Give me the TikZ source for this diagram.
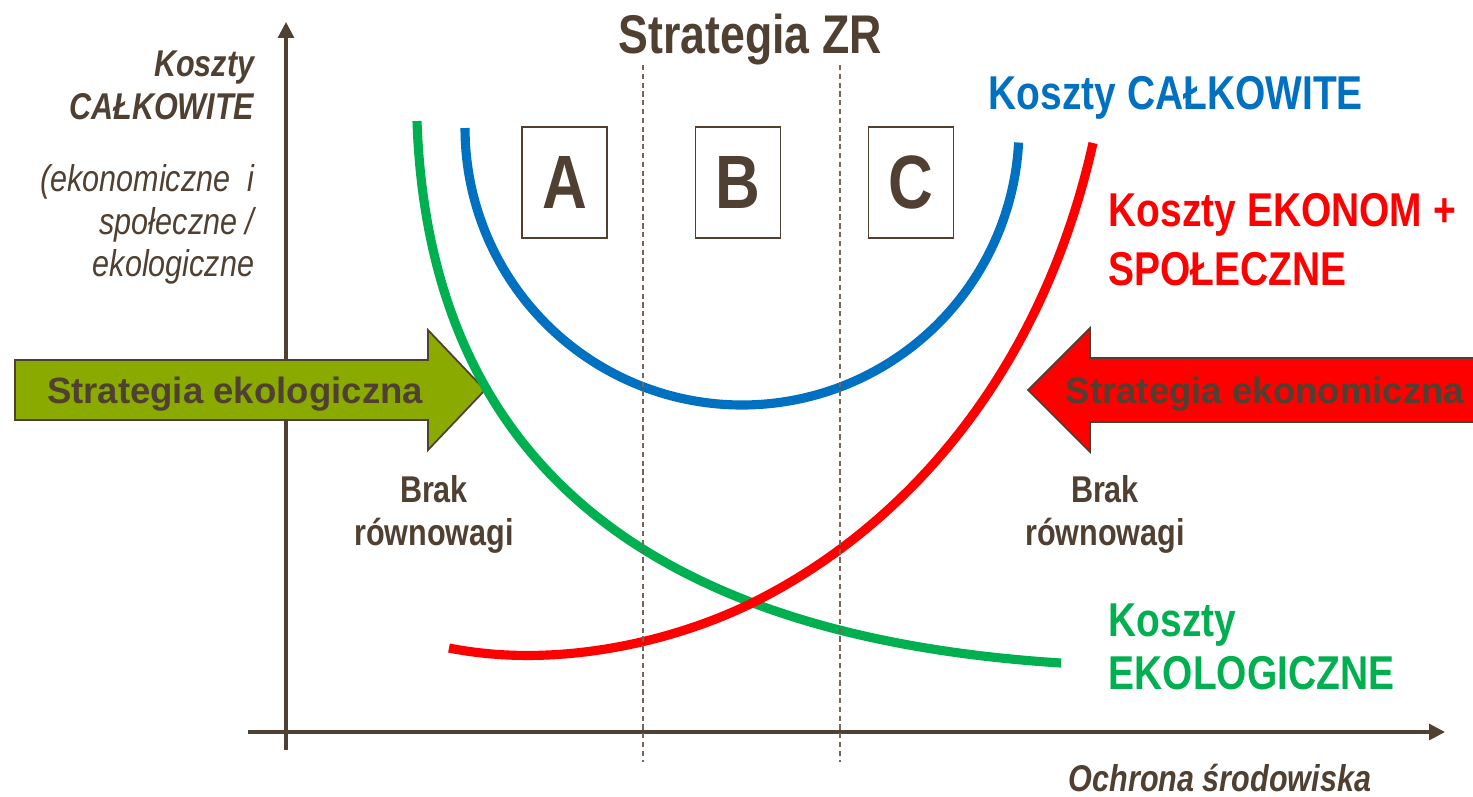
\documentclass[tikz,border=0pt]{standalone}
\usepackage{fontspec}
\setmainfont{Liberation Sans}
\newfontfamily\narrowsf[FakeStretch=0.82]{Liberation Sans}
\usetikzlibrary{arrows.meta}

\definecolor{zrbrown}{RGB}{80,64,50}
\definecolor{zrgreen}{RGB}{0,176,80}
\definecolor{zrblue}{RGB}{0,112,192}
\definecolor{zrred}{RGB}{255,0,0}
\definecolor{zrolive}{RGB}{138,170,0}

\tikzset{
  axis/.style={draw=zrbrown, line width=0.9pt, -{Triangle[length=4.5pt,width=4.5pt]}},
  zone/.style={draw=zrbrown!80, line width=0.35pt, dash pattern=on 1.5pt off 1pt},
  cost/.style={line width=2.6pt},
  letterbox/.style={draw=zrbrown, line width=0.5pt, minimum width=0.85cm, minimum height=1.11cm,
    inner sep=0pt, text=zrbrown, font={\narrowsf\bfseries\fontsize{21.5}{24}\selectfont}},
  strat/.style={draw=zrbrown, line width=0.5pt},
  strattext/.style={text=zrbrown, inner sep=0pt, font={\bfseries\fontsize{10.4}{12}\selectfont}},
  costlabel/.style={inner sep=0pt, align=left, font={\narrowsf\bfseries\fontsize{13.5}{16.8}\selectfont}},
  note/.style={text=zrbrown, inner sep=0pt, font={\narrowsf\bfseries\fontsize{10.6}{12.1}\selectfont}},
}

\begin{document}
\begin{tikzpicture}[x=0.01cm, y=-0.01cm]
    \useasboundingbox[fill=white] (0,0) rectangle (1473,796);

    % axes
    \coordinate (ybot) at (286,750);
    \coordinate (ytop) at (286,22);
    \coordinate (xleft) at (248,732);
    \coordinate (xright) at (1445,732);
    \draw[axis] (ybot) -- (ytop);
    \draw[axis] (xleft) -- (xright);

    % strategy arrows
    \filldraw[strat, fill=zrolive] (15,360) -- (428,360) -- (428,330) -- (485,390) -- (428,450) -- (428,420) -- (15,420) -- cycle;
    \fill[zrred] (1480,358) -- (1090,358) -- (1090,328) -- (1028,390) -- (1090,452) -- (1090,422) -- (1480,422);
    \draw[strat] (1480,358) -- (1090,358) -- (1090,328) -- (1028,390) -- (1090,452) -- (1090,422) -- (1480,422);
    \node[strattext, anchor=base] (ekol) at (235,403) {Strategia ekologiczna};
    \node[strattext, anchor=base west] (ekon) at (1065,403) {Strategia ekonomiczna};

    % cost curves
    \draw[cost, zrblue] plot[domain=180:3, samples=80, smooth] ({742+277*cos(\x)},{128+277*sin(\x)});
    \draw[cost, zrgreen] (417,121) .. controls (430,500) and (700,640) .. (1061,663);
    \draw[cost, zrred] (449,648) .. controls (560,670) and (680,640) .. (758,600)
        .. controls (900,528) and (1040,380) .. (1093,143);

    % zones
    \draw[zone] (643,65) -- (643,762);
    \draw[zone] (840,65) -- (840,762);

    \node[text=zrbrown, inner sep=0pt, anchor=base, font={\narrowsf\bfseries\fontsize{15.5}{18}\selectfont}] (zr) at (750,53) {Strategia ZR};
    \node[letterbox] (boxA) at (564.5,182.5) {A};
    \node[letterbox] (boxB) at (738,182.5) {B};
    \node[letterbox] (boxC) at (911,182.5) {C};

    % labels
    \node[note, align=right, anchor=north east, font={\narrowsf\bfseries\itshape\fontsize{10.6}{12.2}\selectfont}] (ylab) at (255,50) {Koszty\\CAŁKOWITE};
    \node[note, align=right, anchor=north east, font={\narrowsf\itshape\fontsize{10.6}{12.1}\selectfont}] (ydesc) at (255,164) {(ekonomiczne\ \ i\\społeczne /\\ekologiczne};
    \node[note, anchor=base, font={\narrowsf\bfseries\itshape\fontsize{10.6}{12}\selectfont}] (xlab) at (1220,791) {Ochrona środowiska};

    \node[costlabel, text=zrblue, anchor=base west] (total) at (988,109) {Koszty CAŁKOWITE};
    \node[costlabel, text=zrred, anchor=north west] (econ) at (1108,193) {Koszty EKONOM +\\SPOŁECZNE};
    \node[costlabel, text=zrgreen, anchor=north west, font={\narrowsf\bfseries\fontsize{13.5}{15.1}\selectfont}] (ecol) at (1108,603) {Koszty\\EKOLOGICZNE};

    \node[note, align=center, anchor=north] (brakL) at (434,475) {Brak\\równowagi};
    \node[note, align=center, anchor=north] (brakR) at (1105,475) {Brak\\równowagi};
\end{tikzpicture}
\end{document}
